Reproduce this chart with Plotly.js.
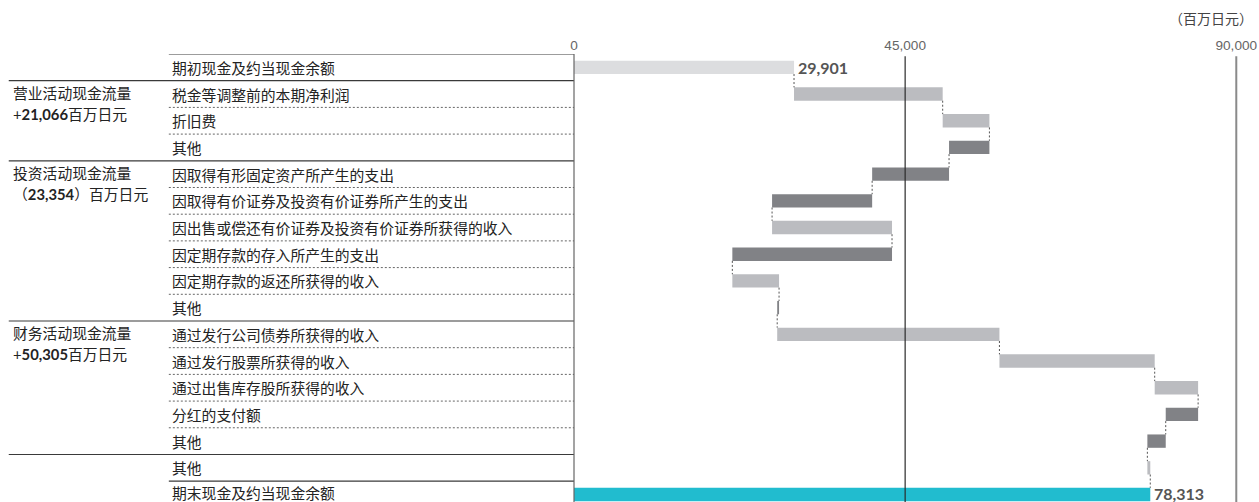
<!DOCTYPE html>
<html>
<head>
<meta charset="utf-8">
<script src="https://cdn.plot.ly/plotly-3.0.1.min.js"></script>
<style>
html,body{margin:0;padding:0;background:#fff;}
#chart{width:1259px;height:502px;}
</style>
</head>
<body>
<div id="chart"></div>
<script>
// ---- data ----
const categories = [
  '期初现金及约当现金余额',
  '税金等调整前的本期净利润',
  '折旧费',
  '其他',
  '因取得有形固定资产所产生的支出',
  '因取得有价证券及投资有价证券所产生的支出',
  '因出售或偿还有价证券及投资有价证券所获得的收入',
  '因定期存款的存入所产生的支出',
  '因定期存款的返还所获得的收入',
  '其他',
  '通过发行公司债券所获得的收入',
  '通过发行股票所获得的收入',
  '通过出售库存股所获得的收入',
  '分红的支付额',
  '其他',
  '其他',
  '期末现金及约当现金余额'
];
const measures = ['absolute','relative','relative','relative','relative','relative','relative','relative','relative','relative','relative','relative','relative','relative','relative','relative','total'];
const amounts = [29901, 20200, 6350, -5484, -10450, -13600, 16300, -21700, 6350, -254, 30200, 21100, 5900, -4400, -2495, 395, 78313];

const groupNames = ['营业活动现金流量', '投资活动现金流量', '财务活动现金流量'];
const groupTotals = ['+<b>21,066</b>百万日元', '（<b>23,354</b>）百万日元', '+<b>50,305</b>百万日元'];
const groupStartRows = [1, 4, 10];

const tickVals = [0, 45000, 90000];
const tickText = ['0', '45,000', '90,000'];
const unitLabel = '（百万日元）';

// ---- geometry helpers ----
const L = 574, PW = 676.7;            // plot left and width in px
const px2paper = p => (p - L) / PW;
const BAR_W = 0.5;
const N = categories.length;

// ---- compute waterfall bases ----
const bases = [], lens = [], colors = [], ends = [];
let cum = 0;
for (let i = 0; i < N; i++) {
  let start, end;
  if (measures[i] === 'absolute') { start = 0; end = amounts[i]; cum = end; colors.push('#dcdddf'); }
  else if (measures[i] === 'total') { start = 0; end = cum; colors.push('#21bccf'); }
  else { start = cum; end = cum + amounts[i]; cum = end; colors.push(amounts[i] >= 0 ? '#bbbcc0' : '#818286'); }
  bases.push(Math.min(start, end));
  lens.push(Math.abs(end - start));
  ends.push(end);
}
const rows = categories.map((_, i) => i);

// connectors
const cx = [], cy = [];
for (let i = 0; i < N - 1; i++) {
  cx.push(ends[i], ends[i], null);
  cy.push(i + BAR_W / 2, i + 1 - BAR_W / 2, null);
}

const traces = [
  {
    type: 'bar', orientation: 'h', y: rows, x: lens, base: bases,
    width: BAR_W, marker: {color: colors, line: {width: 0}},
    hoverinfo: 'skip', showlegend: false
  },
  {
    type: 'scatter', mode: 'lines', x: cx, y: cy,
    line: {color: '#555', width: 1, dash: '2px,2px'},
    hoverinfo: 'skip', showlegend: false
  }
];

// ---- shapes: table lines and vertical rules ----
const shapes = [];
const solidTops = [0, 1, 4, 10, 15, 16];
const longTops = [1, 4, 10, 15];
for (const r of solidTops) {
  shapes.push({type: 'line', xref: 'paper', yref: 'y',
    x0: longTops.includes(r) ? px2paper(9) : px2paper(169), x1: 0,
    y0: r - 0.5, y1: r - 0.5, line: {color: '#3a3a3a', width: 1.2}});
}
for (let r = 1; r < N; r++) {
  if (solidTops.includes(r)) continue;
  shapes.push({type: 'line', xref: 'paper', yref: 'y',
    x0: px2paper(169), x1: 0, y0: r - 0.5, y1: r - 0.5,
    line: {color: '#666', width: 1, dash: '2px,2px'}});
}
// zero line (table right border)
shapes.push({type: 'line', xref: 'paper', yref: 'paper', x0: 0, x1: 0, y0: 0, y1: 1,
  line: {color: '#666', width: 1.2}});
// 45,000 line
shapes.push({type: 'line', xref: 'x', yref: 'paper', x0: tickVals[1], x1: tickVals[1], y0: 0, y1: 0.995,
  line: {color: '#2a2a2a', width: 1.2}, layer: 'above'});
// 90,000 line
shapes.push({type: 'line', xref: 'x', yref: 'paper', x0: tickVals[2], x1: tickVals[2], y0: 0, y1: 0.995,
  line: {color: '#8a8a8a', width: 2}, layer: 'above'});

// ---- annotations ----
const CJK = '"Noto Sans CJK SC", "Noto Sans", sans-serif';
const annotations = [];
categories.forEach((c, i) => {
  annotations.push({xref: 'paper', yref: 'y', x: px2paper(170), y: i, text: c,
    xanchor: 'left', yanchor: 'middle', showarrow: false,
    yshift: i === N - 1 ? 2 : 0,
    font: {family: CJK, size: 14.8, color: '#232323'}});
});
groupNames.forEach((g, k) => {
  const r = groupStartRows[k];
  annotations.push({xref: 'paper', yref: 'y', x: px2paper(11), y: r - 0.07, text: g,
    xanchor: 'left', yanchor: 'middle', showarrow: false,
    font: {family: CJK, size: 14.8, color: '#232323'}});
  annotations.push({xref: 'paper', yref: 'y', x: px2paper(11), y: r + 0.74, text: groupTotals[k],
    xanchor: 'left', yanchor: 'middle', showarrow: false,
    font: {family: 'Lato, ' + CJK, size: 14.8, color: '#232323'}});
});
// value labels on opening and ending bars
[0, N - 1].forEach(i => {
  annotations.push({xref: 'x', yref: 'y', x: ends[i], y: i,
    text: '<b>' + ends[i].toLocaleString('en-US') + '</b>',
    xanchor: 'left', yanchor: 'middle', xshift: 2, yshift: i === N - 1 ? 1 : 0, showarrow: false,
    font: {family: 'Lato, sans-serif', size: 16, color: '#555'}});
});
annotations.push({xref: 'paper', yref: 'paper', x: px2paper(1255), y: 1 + 36 / 448,
  text: unitLabel, xanchor: 'right', yanchor: 'middle', showarrow: false,
  font: {family: CJK, size: 14, color: '#444'}});

const layout = {
  width: 1259, height: 502,
  margin: {l: L, r: 1259 - L - PW, t: 54, b: 0, pad: 0},
  paper_bgcolor: '#fff', plot_bgcolor: '#fff',
  barmode: 'overlay',
  xaxis: {
    side: 'top', range: [0, 92000], tickvals: tickVals, ticktext: tickText,
    showgrid: false, zeroline: false, showline: false, ticks: '',
    ticklabeloverflow: 'allow',
    tickfont: {family: '"Liberation Sans", Arial, sans-serif', size: 13.6, color: '#666'},
    fixedrange: true
  },
  yaxis: {
    range: [16.28, -0.5], showticklabels: false, showgrid: false,
    zeroline: false, showline: false, ticks: '', fixedrange: true
  },
  shapes: shapes,
  annotations: annotations,
  showlegend: false,
  hovermode: false
};

Plotly.newPlot('chart', traces, layout, {displayModeBar: false, staticPlot: true});
</script>
</body>
</html>
